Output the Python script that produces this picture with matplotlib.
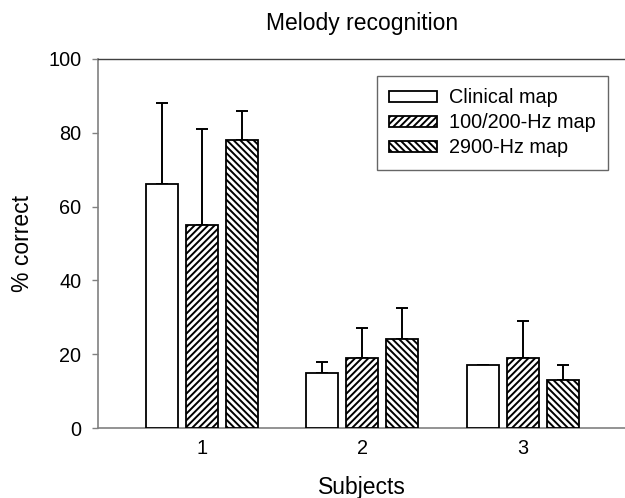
import matplotlib
matplotlib.use("Agg")
import matplotlib.pyplot as plt
import numpy as np

plt.rcParams['font.family'] = ['Liberation Sans', 'DejaVu Sans']
plt.rcParams['hatch.linewidth'] = 1.4

subjects = ["1", "2", "3"]
series_names = ["Clinical map", "100/200-Hz map", "2900-Hz map"]
clinical = [66, 15, 17]
hz100_200 = [55, 19, 19]
hz2900 = [78, 24, 13]
clinical_err = [22, 3, 0]
hz100_200_err = [26, 8, 10]
hz2900_err = [8, 8.5, 4]
yticks = [0, 20, 40, 60, 80, 100]

values = [clinical, hz100_200, hz2900]
errors = [clinical_err, hz100_200_err, hz2900_err]
hatches = ['', '/////', '\\\\\\\\\\']

fig = plt.figure(figsize=(6.25, 4.98), dpi=100)
ax = fig.add_axes([98/625, 1-428/498, (626.6-98)/625, (428-59)/498])

x = np.arange(1, len(subjects) + 1)
width = 0.2
offsets = [-0.25, 0, 0.25]
for vals, errs, h, name, off in zip(values, errors, hatches, series_names, offsets):
    ax.bar(x + off, vals, width, color='white', edgecolor='black', linewidth=1.3,
           hatch=h, label=name, zorder=3)
    errs_plot = [e if e > 0 else np.nan for e in errs]
    ax.errorbar(x + off, vals, yerr=[np.zeros(len(errs)), errs_plot], fmt='none',
                ecolor='black', elinewidth=1.4, capsize=4, capthick=1.4, zorder=2)

ax.set_xlim(0.353, 3.647)
ax.set_ylim(0, 100)
ax.set_yticks(yticks)
ax.set_xticks(x)
ax.set_xticklabels(subjects)
ax.tick_params(axis='x', length=0, pad=8, labelsize=14.3)
ax.tick_params(axis='y', length=4, color='#808080', width=1, pad=8, labelsize=14.3)

for s in ['left', 'bottom']:
    ax.spines[s].set_color('#808080')
    ax.spines[s].set_linewidth(1.2)
ax.spines['top'].set_color('#404040')
ax.spines['top'].set_linewidth(1.0)
ax.spines['right'].set_visible(False)

ax.set_title("Melody recognition", fontsize=16.5, pad=21)
ax.set_xlabel("Subjects", fontsize=16.5, labelpad=13)
ax.set_ylabel("% correct", fontsize=16.5, labelpad=10)

leg = ax.legend(loc='upper left', bbox_to_anchor=(377/625, 1-76/498),
                bbox_transform=fig.transFigure, fontsize=14.3, frameon=True,
                fancybox=False, edgecolor='#404040', handlelength=2.4,
                handleheight=0.5, handletextpad=0.6, labelspacing=0.3,
                borderpad=0.62, borderaxespad=0)
leg.get_frame().set_linewidth(1.0)

fig.savefig("out.png", dpi=100)
